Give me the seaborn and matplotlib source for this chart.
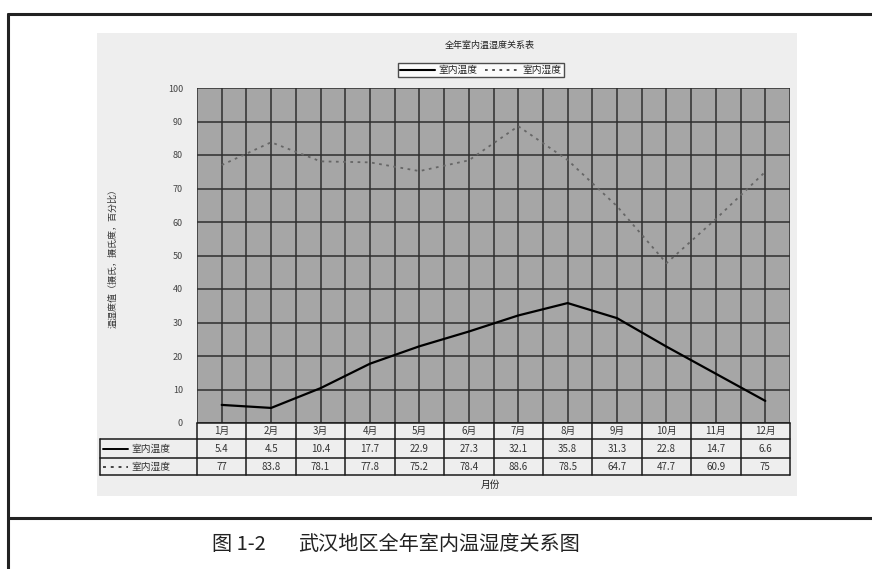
import numpy as np
import pandas as pd
import matplotlib
matplotlib.use("Agg")
import matplotlib.pyplot as plt
from matplotlib.lines import Line2D
from matplotlib.patches import Rectangle
import seaborn as sns

# ---------------- data ----------------
months = ["1月", "2月", "3月", "4月", "5月", "6月", "7月", "8月", "9月", "10月", "11月", "12月"]
temperature = [5.4, 4.5, 10.4, 17.7, 22.9, 27.3, 32.1, 35.8, 31.3, 22.8, 14.7, 6.6]
humidity = [77, 83.8, 78.1, 77.8, 75.2, 78.4, 88.6, 78.5, 64.7, 47.7, 60.9, 75]
temperature_labels = ["5.4", "4.5", "10.4", "17.7", "22.9", "27.3", "32.1", "35.8", "31.3", "22.8", "14.7", "6.6"]
humidity_labels = ["77", "83.8", "78.1", "77.8", "75.2", "78.4", "88.6", "78.5", "64.7", "47.7", "60.9", "75"]
series_names = ["室内温度", "室内湿度"]
yticks = [0, 10, 20, 30, 40, 50, 60, 70, 80, 90, 100]
title = "全年室内温湿度关系表"
ylabel = "温湿度值（摄氏，摄氏度，百分比）"
xlabel = "月份"
caption_num = "图 1-2"
caption_text = "武汉地区全年室内温湿度关系图"

# ---------------- style ----------------
sns.set_theme(style="white")
plt.rcParams["font.family"] = ["Noto Sans CJK SC", "DejaVu Sans"]

W, H = 872, 569
fig = plt.figure(figsize=(W / 100, H / 100), dpi=100)
fig.patch.set_facecolor("white")

def fx(px):
    return px / W

def fy(py):
    return 1 - py / H

# light chart panel
fig.patches.append(Rectangle((fx(97), fy(496)), (797 - 97) / W, (496 - 33) / H,
                             transform=fig.transFigure, facecolor="#eeeeee",
                             edgecolor="none", zorder=-5))

# outer frame lines
for (x0, y0, x1, y1) in [(8, 14, 872, 14), (8, 14, 8, 569), (8, 518, 872, 518)]:
    fig.add_artist(Line2D([fx(x0), fx(x1)], [fy(y0), fy(y1)], transform=fig.transFigure,
                          color="#222222", lw=2.2, zorder=-4))

# plotting axes
L, R, T, B = 197, 790, 88, 423
ax = fig.add_axes([fx(L), fy(B), (R - L) / W, (B - T) / H])
ax.set_facecolor("#a6a6a6")

n = len(months)
df = pd.DataFrame({
    "idx": list(range(n)) * 2,
    "value": temperature + humidity,
    "series": [series_names[0]] * n + [series_names[1]] * n,
})

sns.lineplot(data=df, x="idx", y="value", hue="series", style="series",
             palette={series_names[0]: "black", series_names[1]: "#666666"},
             dashes={series_names[0]: "", series_names[1]: (1.5, 2.5)},
             linewidth=1.5, legend=False, ax=ax, zorder=5)
for ln, lw in zip(ax.lines, [1.6, 1.3]):
    ln.set_linewidth(lw)

ax.set_xlim(-0.5, n - 0.5)
ax.set_ylim(0, 100)
ax.set_yticks(yticks)
ax.set_yticklabels([str(v) for v in yticks], fontsize=6.5, color="#444444")
ax.set_xticks(np.arange(n))
ax.set_xticks(np.arange(-0.5, n, 1.0), minor=True)
ax.set_xticklabels([])
ax.tick_params(axis="both", which="both", length=0)
ax.tick_params(axis="y", pad=10)
ax.grid(True, which="major", axis="both", color="#2e2e2e", lw=1.1)
ax.grid(True, which="minor", axis="x", color="#2e2e2e", lw=1.1)
ax.set_axisbelow(True)
for s in ax.spines.values():
    s.set_visible(False)
ax.set_xlabel("")
ax.set_ylabel(ylabel, fontsize=6.5, color="#333333")
ax.yaxis.set_label_coords((118 - L) / (R - L), 0.5)

# ---------------- data table ----------------
ph = B - T
pw = R - L
def ay(py):
    return (B - py) / ph
def axx(px):
    return (px - L) / pw

rows_y = [423, 439, 458, 475]
left_x = 100
tc = dict(transform=ax.transAxes, clip_on=False, color="#1a1a1a", lw=1.1)
ax.add_line(Line2D([axx(left_x), 1], [ay(rows_y[1])] * 2, **tc))
ax.add_line(Line2D([axx(left_x), 1], [ay(rows_y[2])] * 2, **tc))
ax.add_line(Line2D([axx(left_x), 1], [ay(rows_y[3])] * 2, **tc))
ax.add_line(Line2D([0, 1], [ay(rows_y[0])] * 2, **tc))
for k in range(n + 1):
    ax.add_line(Line2D([k / n] * 2, [ay(rows_y[0]), ay(rows_y[3])], **tc))
ax.add_line(Line2D([axx(left_x)] * 2, [ay(rows_y[1]), ay(rows_y[3])], **tc))

txt_kw = dict(transform=ax.transAxes, ha="center", va="center", fontsize=7, color="#333333", clip_on=False)
for i in range(n):
    cx = (i + 0.5) / n
    ax.text(cx, ay((rows_y[0] + rows_y[1]) / 2), months[i], **txt_kw)
    ax.text(cx, ay((rows_y[1] + rows_y[2]) / 2), temperature_labels[i], **txt_kw)
    ax.text(cx, ay((rows_y[2] + rows_y[3]) / 2), humidity_labels[i], **txt_kw)

for r, (name, ls, col) in enumerate([(series_names[0], "-", "black"), (series_names[1], (0, (1.5, 2.5)), "#444444")]):
    yc = ay((rows_y[r + 1] + rows_y[r + 2]) / 2)
    ax.add_line(Line2D([axx(103), axx(128)], [yc, yc], transform=ax.transAxes, clip_on=False,
                       color=col, lw=1.4, linestyle=ls))
    ax.text(axx(131), yc, name, transform=ax.transAxes, ha="left", va="center",
            fontsize=7, color="#333333", clip_on=False)

fig.text(fx(490), fy(485), xlabel, ha="center", va="center", fontsize=7, color="#222222")
fig.text(fx(490), fy(45), title, ha="center", va="center", fontsize=6.5, color="#222222")

handles = [Line2D([], [], color="black", lw=1.5),
           Line2D([], [], color="#444444", lw=1.3, linestyle=(0, (1.5, 2.5)))]
leg = ax.legend(handles, series_names, ncol=2, loc="center",
                bbox_to_anchor=(fx(481), fy(70)), bbox_transform=fig.transFigure,
                frameon=True, fancybox=False, fontsize=7, handlelength=3.6,
                handletextpad=0.3, columnspacing=0.8, borderpad=0.25)
leg.get_frame().set_edgecolor("#222222")
leg.get_frame().set_facecolor("white")
leg.get_frame().set_linewidth(1.0)

fig.text(fx(212), fy(545), caption_num, ha="left", va="center", fontsize=14.5, color="#222222")
fig.text(fx(298), fy(545), caption_text, ha="left", va="center", fontsize=14.5, color="#222222")

fig.savefig("out.png", dpi=100)
